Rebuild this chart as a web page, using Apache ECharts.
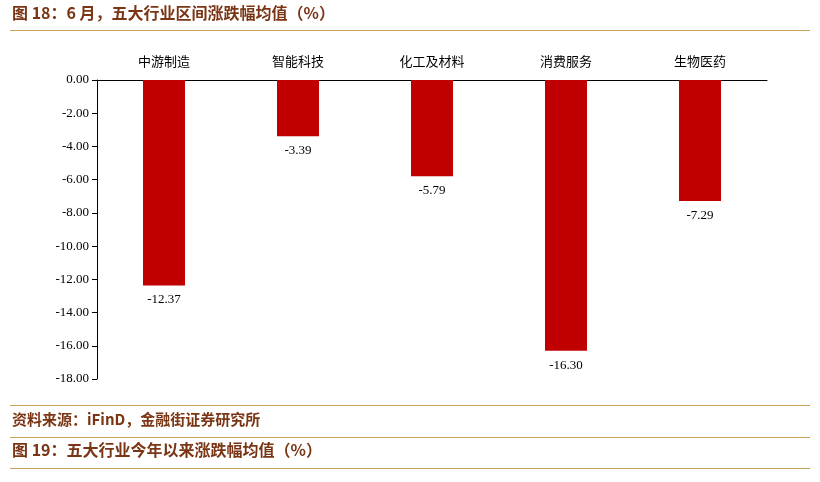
<!DOCTYPE html>
<html><head><meta charset="utf-8">
<script src="https://cdn.jsdelivr.net/npm/echarts@6/dist/echarts.min.js"></script>
<style>html,body{margin:0;padding:0;background:#fff}#c{width:820px;height:482px}</style>
</head><body><div id="c"></div>
<script>
const categories = ['中游制造','智能科技','化工及材料','消费服务','生物医药'];
const values = [-12.37,-3.39,-5.79,-16.30,-7.29];
const chart = echarts.init(document.getElementById('c'));
const font = '"Times New Roman","Liberation Serif","Noto Sans CJK SC",serif';
const tf = '"Noto Sans CJK SC",serif';
chart.setOption({
  animation:false,
  grid:{left:97,right:53,top:80,height:299},
  xAxis:{type:'category',data:categories,position:'top',
    axisLine:{lineStyle:{color:'#000'}},
    axisTick:{show:false},
    axisLabel:{color:'#000',fontSize:13,fontFamily:tf,margin:12}},
  yAxis:{type:'value',min:-18,max:0,interval:2,
    axisLine:{show:true,lineStyle:{color:'#000'}},
    axisTick:{show:true,lineStyle:{color:'#000'}},
    splitLine:{show:false},
    axisLabel:{color:'#000',fontSize:13,fontFamily:font,formatter:v=>v.toFixed(2)}},
  series:[{type:'bar',data:values,barWidth:42,itemStyle:{color:'#C00000'},
    label:{show:true,position:'bottom',distance:8,color:'#000',fontSize:13,fontFamily:font,formatter:p=>p.value.toFixed(2)}}],
  graphic:[
    {type:'text',left:12,top:5,style:{text:'图 18：6 月，五大行业区间涨跌幅均值（%）',fill:'#7A3514',font:'bold 16px '+tf}},
    {type:'rect',shape:{x:10,y:30,width:800,height:1},style:{fill:'#C9A25B'}},
    {type:'rect',shape:{x:10,y:405,width:800,height:1},style:{fill:'#C9A25B'}},
    {type:'text',left:12,top:412,style:{text:'资料来源：iFinD，金融街证券研究所',fill:'#7A3514',font:'bold 15px '+tf}},
    {type:'rect',shape:{x:10,y:437,width:800,height:1},style:{fill:'#C9A25B'}},
    {type:'text',left:12,top:442,style:{text:'图 19：五大行业今年以来涨跌幅均值（%）',fill:'#7A3514',font:'bold 16px '+tf}},
    {type:'rect',shape:{x:10,y:468,width:800,height:1},style:{fill:'#C9A25B'}}
  ]
});
</script></body></html>
